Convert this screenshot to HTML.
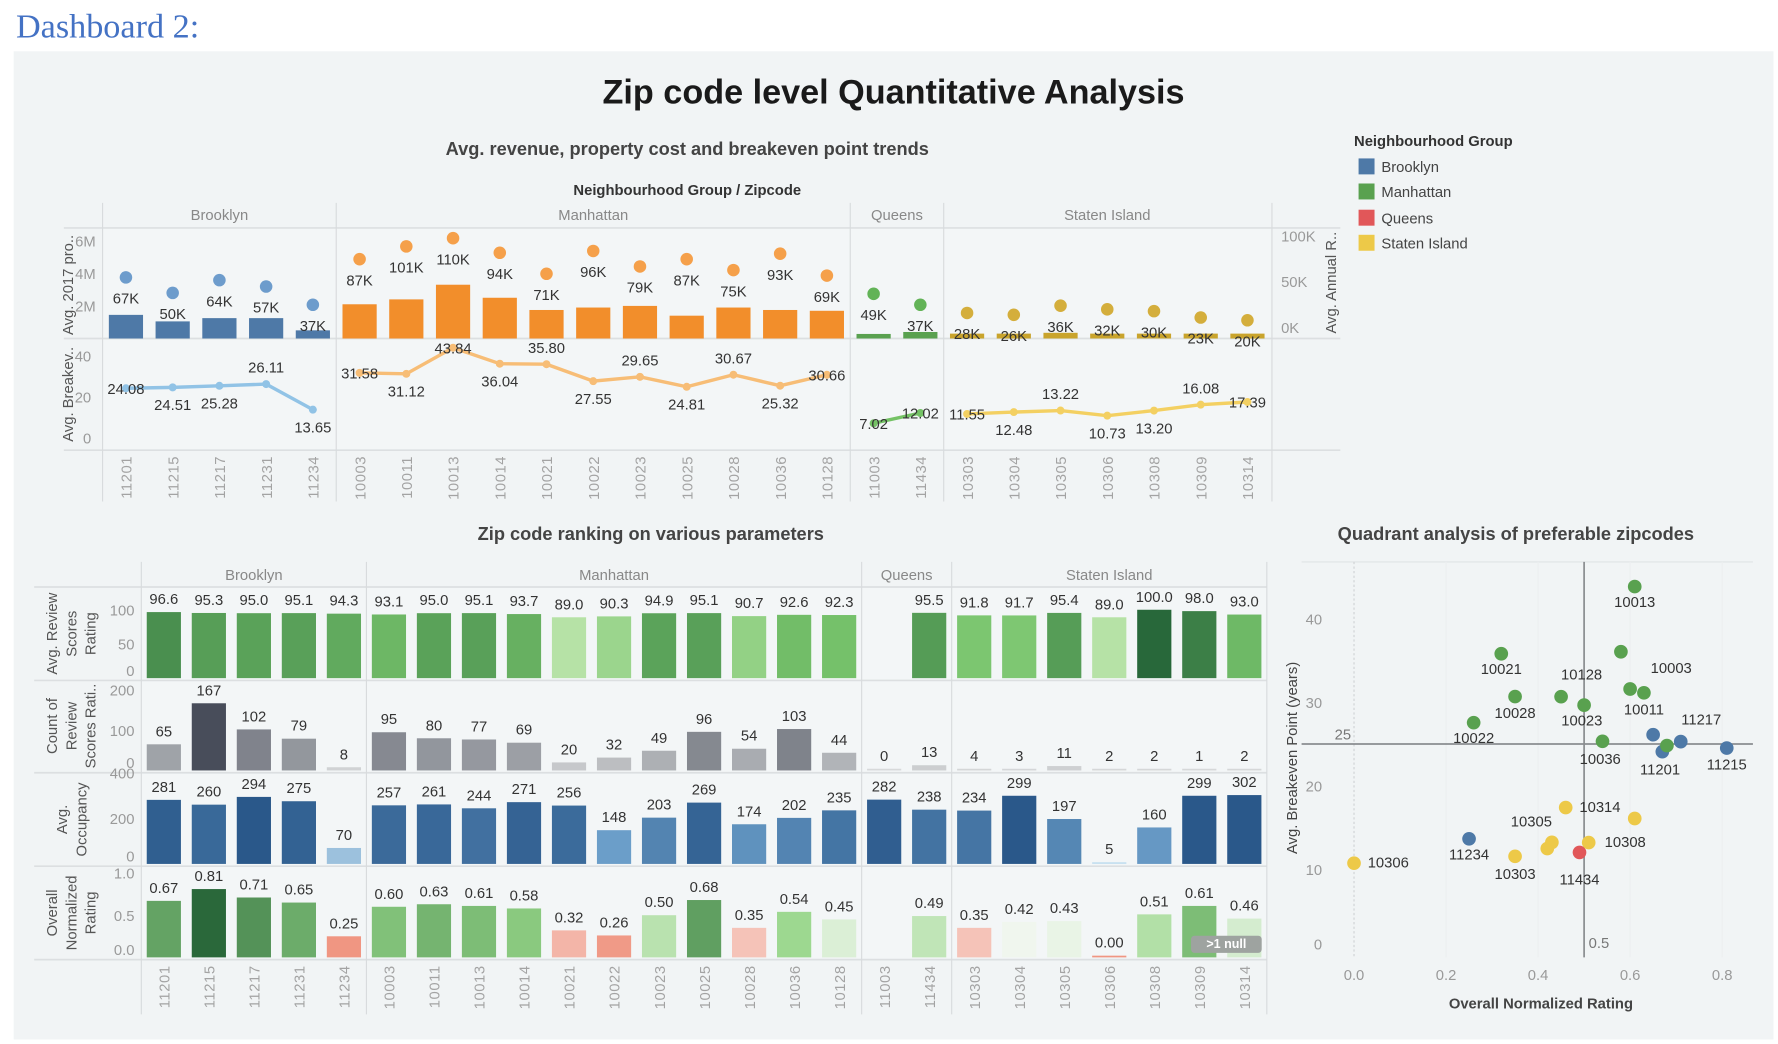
<!DOCTYPE html>
<html><head><meta charset="utf-8"><style>
html,body{margin:0;padding:0;background:#fff;width:1778px;height:1044px;overflow:hidden}
svg{display:block}
text{font-family:"Liberation Sans",sans-serif}
</style></head><body>
<svg id="dash" xmlns="http://www.w3.org/2000/svg" width="1778" height="1044" viewBox="0 0 1560 916" preserveAspectRatio="none">
<text x="14" y="33" font-size="30" fill="#4472c4" style="font-family:'Liberation Serif',serif">Dashboard 2:</text>
<rect x="12" y="45" width="1544" height="867" fill="#f1f4f5"/>
<text x="784" y="91" text-anchor="middle" font-size="30" font-weight="bold" fill="#1a1a1a">Zip code level Quantitative Analysis</text>
<text x="603" y="136" text-anchor="middle" font-size="16" font-weight="bold" fill="#444">Avg. revenue, property cost and breakeven point trends</text>
<text x="603" y="171" text-anchor="middle" font-size="13" font-weight="bold" fill="#333">Neighbourhood Group / Zipcode</text>
<text x="571" y="474" text-anchor="middle" font-size="16" font-weight="bold" fill="#444">Zip code ranking on various parameters</text>
<text x="1330" y="474" text-anchor="middle" font-size="16" font-weight="bold" fill="#444">Quadrant analysis of preferable zipcodes</text>
<g>
<text x="1188" y="128" font-size="13" font-weight="bold" fill="#333">Neighbourhood Group</text>
<rect x="1192" y="139" width="14" height="14" fill="#4e79a7"/>
<text x="1212" y="151" font-size="13" fill="#444">Brooklyn</text>
<rect x="1192" y="161" width="14" height="14" fill="#59a14f"/>
<text x="1212" y="173" font-size="13" fill="#444">Manhattan</text>
<rect x="1192" y="184" width="14" height="14" fill="#e15759"/>
<text x="1212" y="196" font-size="13" fill="#444">Queens</text>
<rect x="1192" y="206" width="14" height="14" fill="#edc948"/>
<text x="1212" y="218" font-size="13" fill="#444">Staten Island</text>
</g>
<g id="topchart"></g>
<g id="botchart"></g>
<g id="quadchart"></g>
</svg>
<script>
// ---------- data ----------
const groupNames = ["Brooklyn","Manhattan","Queens","Staten Island"];
const groupCounts = [5,11,2,7];
const zips = ["11201","11215","11217","11231","11234","10003","10011","10013","10014","10021","10022","10023","10025","10028","10036","10128","11003","11434","10303","10304","10305","10306","10308","10309","10314"];
const revenueK = [67,50,64,57,37,87,101,110,94,71,96,79,87,75,93,69,49,37,28,26,36,32,30,23,20];
const propertyM = [1.45,1.05,1.25,1.25,0.5,2.1,2.4,3.3,2.5,1.75,1.9,2.0,1.4,1.9,1.75,1.7,0.28,0.4,0.3,0.3,0.35,0.3,0.3,0.3,0.3];
const breakeven = [24.08,24.51,25.28,26.11,13.65,31.58,31.12,43.84,36.04,35.80,27.55,29.65,24.81,30.67,25.32,30.66,7.02,12.02,11.55,12.48,13.22,10.73,13.20,16.08,17.39];
const reviewScore = [96.6,95.3,95.0,95.1,94.3,93.1,95.0,95.1,93.7,89.0,90.3,94.9,95.1,90.7,92.6,92.3,null,95.5,91.8,91.7,95.4,89.0,100.0,98.0,93.0];
const reviewCount = [65,167,102,79,8,95,80,77,69,20,32,49,96,54,103,44,0,13,4,3,11,2,2,1,2];
const occupancy = [281,260,294,275,70,257,261,244,271,256,148,203,269,174,202,235,282,238,234,299,197,5,160,299,302];
const normRating = [0.67,0.81,0.71,0.65,0.25,0.60,0.63,0.61,0.58,0.32,0.26,0.50,0.68,0.35,0.54,0.45,null,0.49,0.35,0.42,0.43,0.00,0.51,0.61,0.46];
const leftTicksM = [2,4,6];
const rightTicksK = [0,50,100];
const beTicks = [0,20,40];
const quadXTicks = [0,0.2,0.4,0.6,0.8];
const quadYTicks = [0,10,20,30,40];

// layout (not data)
const beLabelPos = ["o","b","b","a","b","o","b","o","b","a","b","a","b","a","b","o","o","o","o","b","a","b","b","a","o"];
const quadLabels = {"10013":[0,18,"m"],"10021":[0,18,"m"],"10003":[18,-14,"s"],"10128":[18,-15,"m"],"10023":[-2,18,"m"],"10028":[0,19,"m"],"10022":[0,18,"m"],"10011":[0,19,"m"],"10036":[-2,20,"m"],"11201":[-2,20,"m"],"11217":[18,-15,"m"],"11215":[0,19,"m"],"11234":[0,18,"m"],"10303":[0,20,"m"],"10305":[-18,-14,"m"],"10306":[12,4,"s"],"10308":[14,4,"s"],"10314":[12,4,"s"],"11434":[0,28,"m"]};

const NS="http://www.w3.org/2000/svg";
function mk(tag,attrs,parent,txt){const e=document.createElementNS(NS,tag);for(const k in attrs)e.setAttribute(k,attrs[k]);if(txt!==undefined)e.textContent=txt;parent.appendChild(e);return e;}
function groupOf(i){let s=0;for(let g=0;g<groupCounts.length;g++){s+=groupCounts[g];if(i<s)return g;}return 3;}
function lerp(a,b,t){return Math.round(a+(b-a)*t);}
function mix(c1,c2,t){t=Math.max(0,Math.min(1,t));return "rgb("+lerp(c1[0],c2[0],t)+","+lerp(c1[1],c2[1],t)+","+lerp(c1[2],c2[2],t)+")";}

// ---------- top chart ----------
const topG=document.getElementById('topchart');
const tX0=90,tCW=41,tW=tX0+zips.length*tCW;
const cx=i=>tX0+i*tCW+tCW/2;
const yM=v=>297-v*14.3;
const yK=v=>297-v*0.8;
const yBE=v=>384-v*1.8;
const barCol=["#4e79a7","#f28e2b","#59a14f","#c9a42c"];
const dotCol=["#6d9ccc","#f5a04a","#62b357","#d4ae3c"];
const lineCol=["#91c3e6","#f7bd76","#74c265","#f3d062"];
let el;
el=mk('rect',{x:tX0,y:200,width:tW-tX0,height:195,fill:"#f3f6f7"},topG);


[200,297,395].forEach(y=>{el=mk('line',{x1:56,x2:1176,y1:y,y2:y,stroke:"#dcdfe1","stroke-width":1.5},topG);

});
let acc=0;
groupNames.forEach((g,gi)=>{
  const x0=tX0+acc*tCW,x1=tX0+(acc+groupCounts[gi])*tCW;
  el=mk('line',{x1:x0,x2:x0,y1:178,y2:440,stroke:"#d8dbdd"},topG);
  
  
  el=mk('text',{x:(x0+x1)/2,y:193,"text-anchor":"middle","font-size":13,fill:"#888"},topG,g);
  
  
  acc+=groupCounts[gi];
});
el=mk('line',{x1:tW+1,x2:tW+1,y1:178,y2:440,stroke:"#d8dbdd"},topG);


leftTicksM.forEach(t=>{el=mk('text',{x:84,y:yM(t)+5,"text-anchor":"end","font-size":13,fill:"#999"},topG,t+"M");

});
rightTicksK.forEach(t=>{el=mk('text',{x:1124,y:yK(t)-5,"font-size":13,fill:"#999"},topG,t+"K");

});
beTicks.forEach(t=>{el=mk('text',{x:80,y:yBE(t)+5,"text-anchor":"end","font-size":13,fill:"#999"},topG,t);

});
el=mk('text',{transform:"translate(64,250) rotate(-90)","text-anchor":"middle","font-size":13,fill:"#555"},topG,"Avg. 2017 pro..");


el=mk('text',{transform:"translate(64,346) rotate(-90)","text-anchor":"middle","font-size":13,fill:"#555"},topG,"Avg. Breakev..");


el=mk('text',{transform:"translate(1172,248) rotate(-90)","text-anchor":"middle","font-size":13,fill:"#555"},topG,"Avg. Annual R..");


zips.forEach((z,i)=>{
  const g=groupOf(i);
  el=mk('rect',{x:cx(i)-15,y:yM(propertyM[i]),width:30,height:297-yM(propertyM[i]),fill:barCol[g]},topG);
  
  
  el=mk('circle',{cx:cx(i),cy:yK(revenueK[i]),r:5.5,fill:dotCol[g]},topG);
  
  
  el=mk('text',{x:cx(i),y:yK(revenueK[i])+23,"text-anchor":"middle","font-size":13,fill:"#333"},topG,revenueK[i]+"K");
  
  
  el=mk('text',{transform:"translate("+(cx(i)+5)+",400) rotate(-90)","text-anchor":"end","font-size":13,fill:"#a3a3a3","letter-spacing":"0.5"},topG,z);
  
  
});
acc=0;
groupCounts.forEach((n,gi)=>{
  const pts=[];
  for(let i=acc;i<acc+n;i++)pts.push(cx(i)+","+yBE(breakeven[i]));
  el=mk('polyline',{points:pts.join(" "),fill:"none",stroke:lineCol[gi],"stroke-width":3},topG);
  
  
  for(let i=acc;i<acc+n;i++){
    el=mk('circle',{cx:cx(i),cy:yBE(breakeven[i]),r:3.5,fill:lineCol[gi]},topG);
    
    
    const p=beLabelPos[i],dy=p==="a"?-10:(p==="b"?20:5);
    el=mk('text',{x:cx(i),y:yBE(breakeven[i])+dy,"text-anchor":"middle","font-size":13,fill:"#333"},topG,breakeven[i].toFixed(2));
    
    
  }
  acc+=n;
});

// ---------- bottom chart ----------
const botG=document.getElementById('botchart');
const bX0=124,bCW=39.5,bW=bX0+zips.length*bCW;
const bx=i=>bX0+i*bCW+bCW/2;
const rows=[
 {vals:reviewScore,bottom:597,scale:0.6,ticks:[0,50,100],fmt:v=>v.toFixed(1),title:["Avg. Review","Scores","Rating"],cy:556,name:"review-score",
  col:v=>v<92?mix([182,226,166],[120,196,108],(v-89)/3):mix([120,196,108],[40,104,58],(v-92)/8)},
 {vals:reviewCount,bottom:678,scale:0.353,ticks:[0,100,200],fmt:v=>String(v),title:["Count of","Review","Scores Rati.."],cy:637,name:"review-count",
  col:v=>mix([215,217,218],[72,77,90],v/167)},
 {vals:occupancy,bottom:760,scale:0.2,ticks:[0,200,400],fmt:v=>String(v),title:["Avg.","Occupancy"],cy:719,name:"occupancy",
  col:v=>v<150?mix([200,225,240],[106,157,200],(v)/150):mix([106,157,200],[42,88,138],(v-150)/145)},
 {vals:normRating,bottom:842,scale:74,ticks:[0,0.5,1.0],fmt:v=>v.toFixed(2),title:["Overall","Normalized","Rating"],cy:801,name:"normalized-rating",
  col:v=>v<0.42?mix([240,150,130],[248,226,222],(v-0.25)/0.17):(v<0.55?mix([240,246,238],[150,214,136],(v-0.42)/0.13):mix([150,214,136],[42,104,58],(v-0.55)/0.26)),tfmt:v=>v.toFixed(1)}
];
el=mk('rect',{x:bX0,y:515,width:bW-bX0,height:327,fill:"#f3f6f7"},botG);


[515,597,678,760,842].forEach(y=>{el=mk('line',{x1:30,x2:bW,y1:y,y2:y,stroke:"#dcdfe1","stroke-width":1.5},botG);

});
acc=0;
groupNames.forEach((g,gi)=>{
  const x0=bX0+acc*bCW,x1=bX0+(acc+groupCounts[gi])*bCW;
  el=mk('line',{x1:x0,x2:x0,y1:493,y2:890,stroke:"#d8dbdd"},botG);
  
  
  el=mk('text',{x:(x0+x1)/2,y:509,"text-anchor":"middle","font-size":13,fill:"#888"},botG,g);
  
  
  acc+=groupCounts[gi];
});
el=mk('line',{x1:bW,x2:bW,y1:493,y2:890,stroke:"#d8dbdd"},botG);


rows.forEach(r=>{
  const yv=v=>r.bottom-2-v*r.scale;
  r.ticks.forEach(t=>{el=mk('text',{x:118,y:Math.min(yv(t)+5,r.bottom-4),"text-anchor":"end","font-size":13,fill:"#999"},botG,r.tfmt?r.tfmt(t):t);
  
  });
  const n=r.title.length;
  r.title.forEach((t,k)=>{el=mk('text',{transform:"translate("+(50+k*17+(3-n)*9)+","+r.cy+") rotate(-90)","text-anchor":"middle","font-size":13,fill:"#555"},botG,t);
  
  });
  r.vals.forEach((v,i)=>{
    if(v===null)return;
    const h=Math.max(v*r.scale,1.5);
    el=mk('rect',{x:bx(i)-15,y:r.bottom-2-h,width:30,height:h,fill:r.col(v)},botG);
    
    
    el=mk('text',{x:bx(i),y:r.bottom-2-h-7,"text-anchor":"middle","font-size":13,fill:"#333"},botG,r.fmt(v));
    
    
  });
});
zips.forEach((z,i)=>{
  el=mk('text',{transform:"translate("+(bx(i)+5)+",847) rotate(-90)","text-anchor":"end","font-size":13,fill:"#a3a3a3","letter-spacing":"0.5"},botG,z);
  
  
});
el=mk('rect',{x:1045,y:821,width:62,height:15,rx:3,fill:"#9ea3a0"},botG);


el=mk('text',{x:1076,y:832,"text-anchor":"middle","font-size":11,"font-weight":"bold",fill:"#fff"},botG,">1 null");



// ---------- quadrant chart ----------
const quadG=document.getElementById('quadchart');
const qx=v=>1188+v*403.75;
const qy=v=>836-v*7.33;
const qCol=["#4e79a7","#59a14f","#e15759","#edc948"];
el=mk('line',{x1:1142,x2:1538,y1:493,y2:493,stroke:"#e0e3e5"},quadG);


quadXTicks.forEach(t=>{
  el=mk('line',{x1:qx(t),x2:qx(t),y1:493,y2:840,stroke:t===0?"#cfd2d4":"#eceff0","stroke-dasharray":t===0?"2,2":"none"},quadG);
  
  
  el=mk('text',{x:qx(t),y:860,"text-anchor":"middle","font-size":13,fill:"#999"},quadG,t.toFixed(1));
  
  
});
quadYTicks.forEach(t=>{
  el=mk('text',{x:1160,y:qy(t)+(t===0?-3:5),"text-anchor":"end","font-size":13,fill:"#999"},quadG,t);
  
  
});
el=mk('line',{x1:1142,x2:1538,y1:qy(25),y2:qy(25),stroke:"#8a8d90","stroke-width":1.5},quadG);


el=mk('line',{x1:qx(0.5),x2:qx(0.5),y1:493,y2:840,stroke:"#8a8d90","stroke-width":1.5},quadG);


el=mk('text',{x:1171,y:qy(25)-4,"font-size":13,fill:"#777"},quadG,"25");


el=mk('text',{x:qx(0.5)+4,y:832,"font-size":13,fill:"#777"},quadG,"0.5");


el=mk('text',{transform:"translate(1138,665) rotate(-90)","text-anchor":"middle","font-size":13,fill:"#444"},quadG,"Avg. Breakeven Point (years)");


el=mk('text',{x:1352,y:885,"text-anchor":"middle","font-size":13,"font-weight":"bold",fill:"#444"},quadG,"Overall Normalized Rating");


zips.forEach((z,i)=>{
  if(normRating[i]===null)return;
  const x=qx(normRating[i]),y=qy(breakeven[i]);
  el=mk('circle',{cx:x,cy:y,r:6,fill:qCol[groupOf(i)]},quadG);
  
  
  const L=quadLabels[z];
  if(L){
    el=mk('text',{x:x+L[0],y:y+L[1],"text-anchor":L[2]==="s"?"start":"middle","font-size":13,fill:"#333"},quadG,z);
    
    
  }
});
</script>
</body></html>
